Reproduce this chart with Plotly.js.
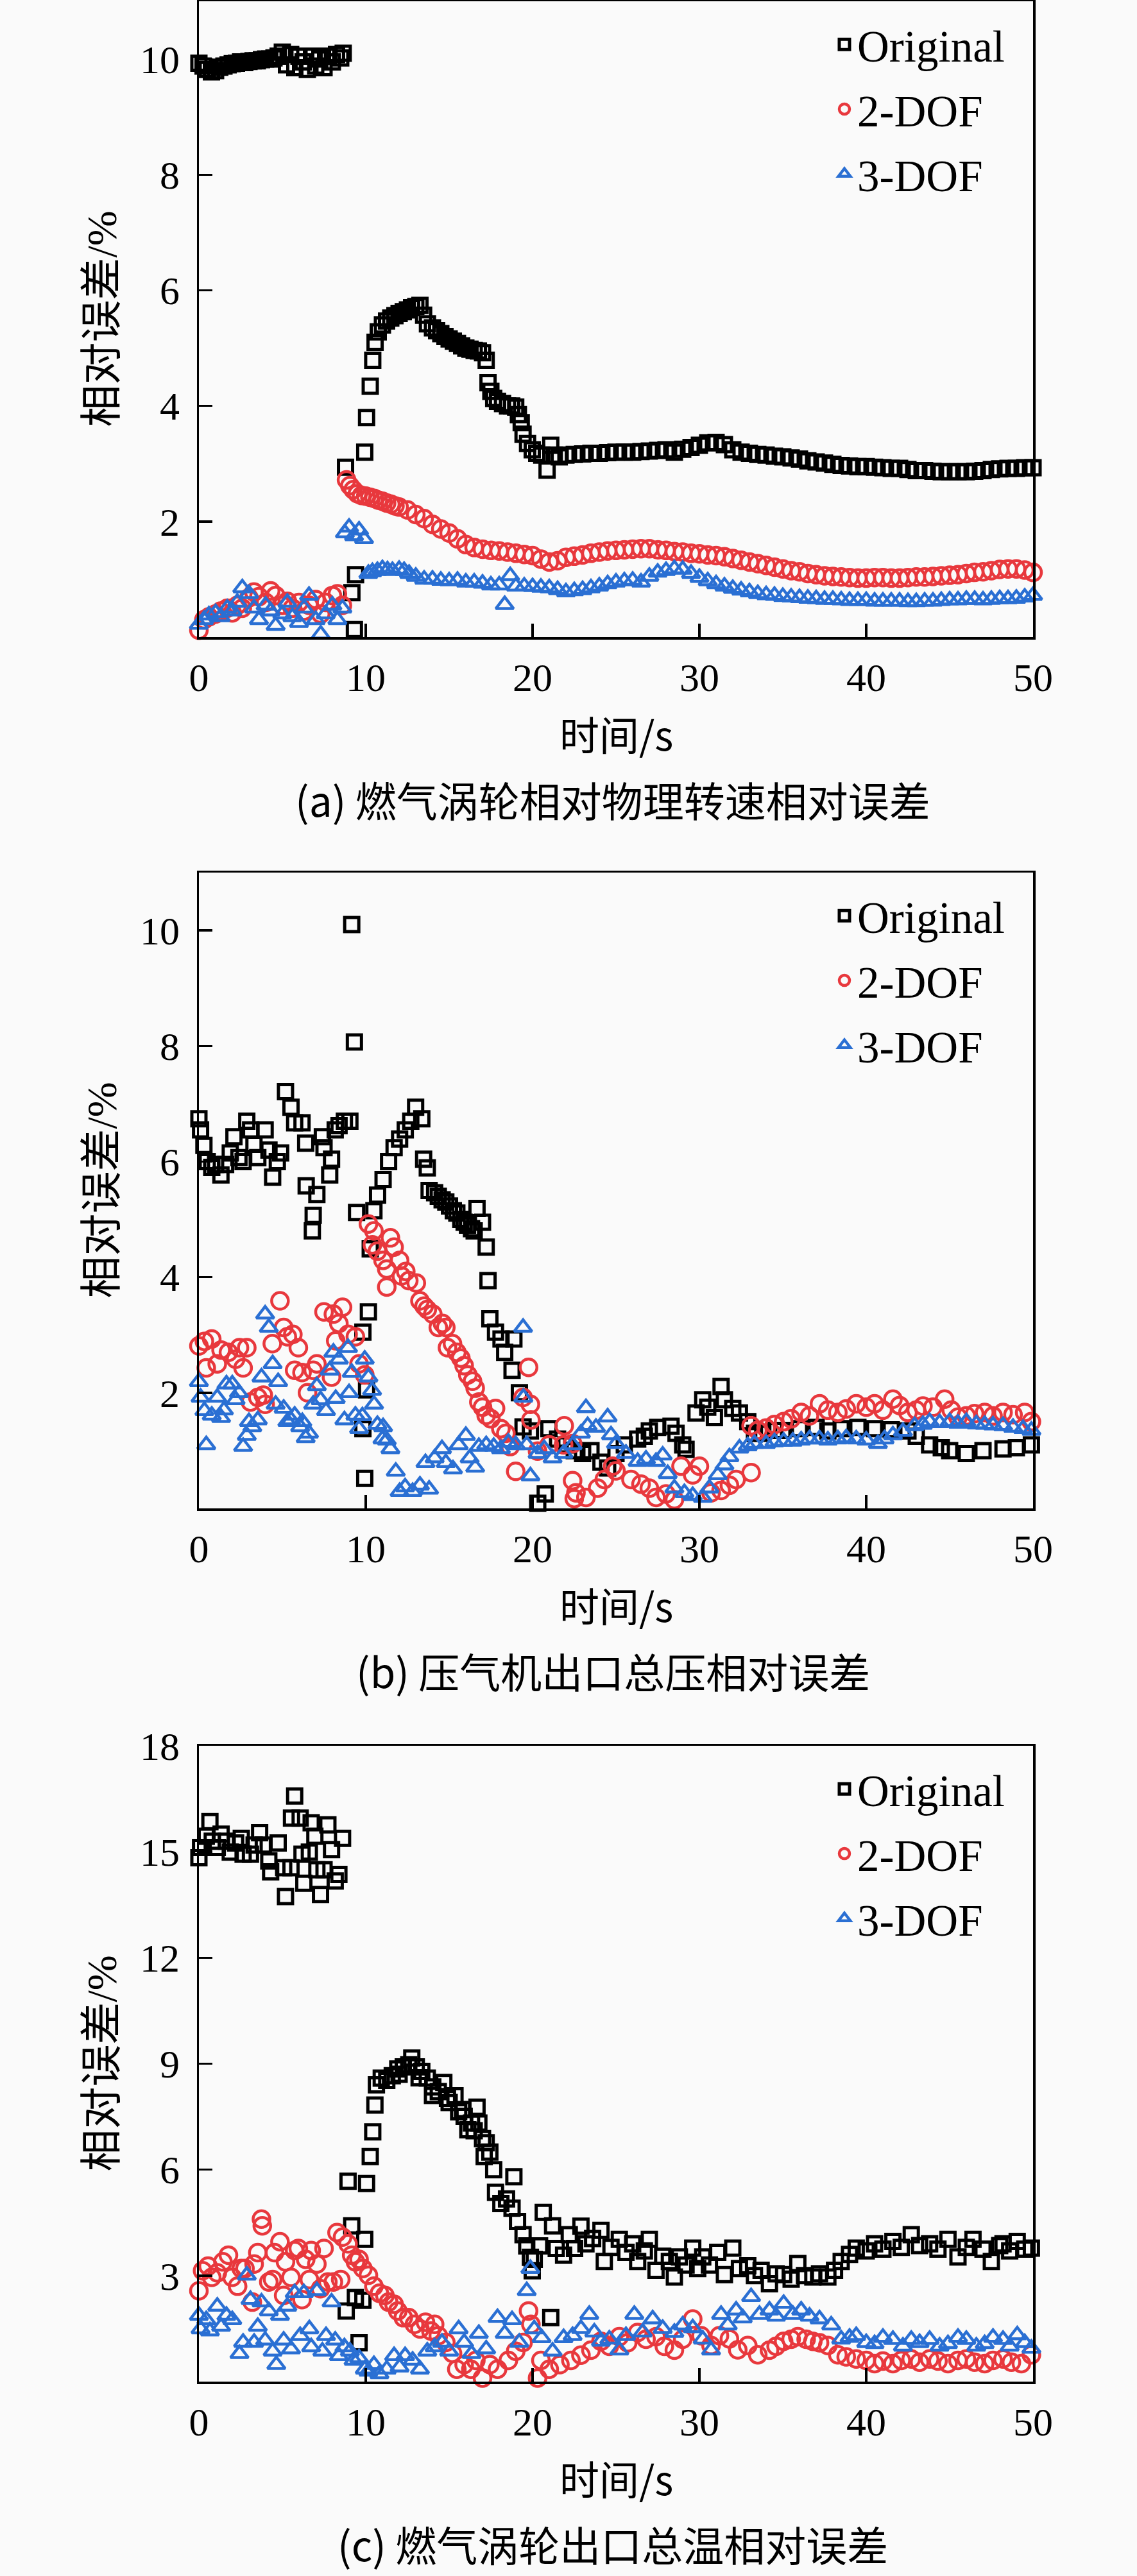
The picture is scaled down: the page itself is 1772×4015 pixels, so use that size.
<!DOCTYPE html>
<html>
<head>
<meta charset="utf-8">
<script src="https://cdn.plot.ly/plotly-3.0.1.min.js"></script>
<style>
html, body { margin: 0; padding: 0; background: #fafafa; }
#chart { width: 1772px; height: 4015px; }
</style>
</head>
<body>
<div id="chart"></div>
<script>
// series are [time s, relative error %] pairs

const series_names = ["Original", "2-DOF", "3-DOF"];
const x_ticks = [0, 10, 20, 30, 40, 50];
const y_ticks_ab = [2, 4, 6, 8, 10];
const y_ticks_c = [3, 6, 9, 12, 15, 18];
const captions = ["(a) 燃气涡轮相对物理转速相对误差", "(b) 压气机出口总压相对误差", "(c) 燃气涡轮出口总温相对误差"];

// (a) relative physical speed of gas turbine
const a_orig = [[0,9.93],[0.25,9.88],[0.5,9.82],[0.75,9.78],[1,9.8],[1.25,9.86],[1.5,9.88],[1.75,9.9],[2,9.92],[2.25,9.93],[2.5,9.95],[2.75,9.94],[3,9.96],[3.25,9.97],[3.5,9.97],[3.75,9.99],[4,10.0],[4.25,10.0],[4.5,10.02],[4.75,10.05],[5,10.12],[5.25,9.9],[5.5,10.08],[5.75,9.85],[6,10.05],[6.25,9.95],[6.5,9.82],[6.75,10.05],[7,9.88],[7.25,10.0],[7.5,9.85],[7.75,10.05],[8,9.95],[8.25,10.08],[8.5,10.02],[8.65,10.1],
  [8.79,2.94],[9.17,0.77],[9.32,0.13],[9.39,1.08],[9.94,3.2],[10.05,3.8],[10.27,4.34],[10.42,4.79],[10.56,5.1],[10.75,5.28],[11,5.4],[11.25,5.47],[11.5,5.52],[11.75,5.56],[12,5.6],[12.25,5.63],[12.5,5.66],[12.75,5.7],[13,5.72],[13.25,5.74],[13.47,5.57],[13.7,5.42],[14,5.35],[14.25,5.3],[14.5,5.25],[14.75,5.2],[15,5.16],[15.25,5.12],[15.5,5.08],[15.75,5.04],[16,5.0],[16.25,4.98],[16.5,4.96],[16.75,4.95],[17,4.92],[17.22,4.79],[17.33,4.4],[17.5,4.25],[17.67,4.13],[17.9,4.08],[18.2,4.04],[18.5,4.0],[18.75,4.0],[18.99,3.98],[19.15,3.85],[19.32,3.71],[19.43,3.51],[19.7,3.35],[19.98,3.24],[20.25,3.18],[20.55,3.15],[20.87,2.89],[21.09,3.32],[21.3,3.15],[21.6,3.12],
  [22,3.15],[22.5,3.16],[23,3.17],[23.5,3.18],[24,3.18],[24.5,3.19],[25,3.2],[25.5,3.2],[26,3.2],[26.5,3.21],[27,3.22],[27.5,3.23],[28,3.24],[28.5,3.2],[29,3.25],[29.5,3.28],[30,3.32],[30.5,3.36],[31,3.37],[31.5,3.33],[32,3.24],[32.5,3.2],[33,3.18],[33.5,3.16],[34,3.15],[34.5,3.13],[35,3.12],[35.5,3.1],[36,3.08],[36.5,3.05],[37,3.03],[37.5,3.01],[38,2.99],[38.5,2.97],[39,2.96],[39.5,2.95],[40,2.95],[40.5,2.94],[41,2.93],[41.5,2.92],[42,2.92],[42.5,2.9],[43,2.88],[43.5,2.88],[44,2.87],[44.5,2.86],[45,2.86],[45.5,2.86],[46,2.86],[46.5,2.87],[47,2.88],[47.5,2.9],[48,2.91],[48.5,2.92],[49,2.92],[49.5,2.93],[50,2.93]];
const a_dof2 = [[0,0.12],[0.3,0.3],[0.6,0.35],[1,0.4],[1.3,0.45],[1.7,0.5],[2,0.42],[2.3,0.55],[2.6,0.5],[3,0.68],[3.3,0.78],[3.6,0.7],[4,0.6],[4.3,0.8],[4.6,0.72],[5,0.55],[5.3,0.62],[5.6,0.5],[6,0.6],[6.3,0.45],[6.6,0.55],[7,0.65],[7.3,0.4],[7.6,0.6],[8,0.72],[8.3,0.75],[8.6,0.55],
  [8.85,2.72],[9.05,2.62],[9.25,2.55],[9.5,2.48],[9.75,2.45],[10,2.44],[10.25,2.42],[10.5,2.4],[10.75,2.37],[11,2.35],[11.25,2.32],[11.5,2.3],[11.75,2.27],[12,2.25],[12.5,2.2],[13,2.12],[13.5,2.05],[14,1.95],[14.5,1.87],[15,1.8],[15.5,1.7],[16,1.6],[16.5,1.55],[17,1.52],[17.5,1.5],[18,1.49],[18.5,1.47],[19,1.45],[19.5,1.43],[20,1.41],[20.5,1.35],[21,1.3],[21.5,1.32],[22,1.38],[22.5,1.4],[23,1.42],[23.5,1.45],[24,1.47],[24.5,1.49],[25,1.5],[25.5,1.51],[26,1.52],[26.5,1.53],[27,1.53],[27.5,1.51],[28,1.5],[28.5,1.48],[29,1.47],[29.5,1.45],[30,1.44],[30.5,1.42],[31,1.41],[31.5,1.39],[32,1.36],[32.5,1.33],[33,1.3],[33.5,1.27],[34,1.24],[34.5,1.21],[35,1.18],[35.5,1.15],[36,1.13],[36.5,1.1],[37,1.08],[37.5,1.06],[38,1.05],[38.5,1.04],[39,1.03],[39.5,1.02],[40,1.02],[40.5,1.03],[41,1.03],[41.5,1.02],[42,1.02],[42.5,1.03],[43,1.04],[43.5,1.04],[44,1.05],[44.5,1.06],[45,1.07],[45.5,1.08],[46,1.1],[46.5,1.12],[47,1.13],[47.5,1.15],[48,1.17],[48.5,1.18],[49,1.18],[49.5,1.16],[50,1.12]];
const a_dof3 = [[0,0.22],[0.3,0.3],[0.6,0.38],[1,0.42],[1.3,0.35],[1.7,0.5],[2,0.45],[2.3,0.6],[2.6,0.85],[3,0.75],[3.3,0.5],[3.6,0.3],[4,0.55],[4.3,0.45],[4.6,0.2],[5,0.4],[5.3,0.6],[5.6,0.35],[6,0.25],[6.3,0.5],[6.6,0.72],[7,0.3],[7.3,0.05],[7.6,0.4],[8,0.55],[8.3,0.3],[8.6,0.5],
  [8.75,1.8],[9,1.9],[9.3,1.75],[9.6,1.85],[9.9,1.7],[10.16,1.1],[10.4,1.13],[10.7,1.15],[11,1.18],[11.3,1.16],[11.6,1.15],[12,1.17],[12.3,1.15],[12.6,1.1],[13,1.05],[13.5,1.0],[14,1.0],[14.5,0.98],[15,0.97],[15.5,0.98],[16,0.95],[16.5,0.95],[17,0.93],[17.5,0.9],[18,0.9],[18.33,0.56],[18.66,1.06],[19,0.88],[19.5,0.88],[20,0.87],[20.5,0.86],[21,0.85],[21.5,0.82],[22,0.78],[22.5,0.8],[23,0.82],[23.5,0.85],[24,0.88],[24.5,0.92],[25,0.95],[25.5,0.97],[26,0.98],[26.5,0.95],[27,1.05],[27.5,1.12],[28,1.15],[28.5,1.18],[29,1.17],[29.5,1.1],[30,1.03],[30.5,0.97],[31,0.92],[31.5,0.88],[32,0.84],[32.5,0.81],[33,0.78],[33.5,0.75],[34,0.73],[34.5,0.72],[35,0.7],[35.5,0.69],[36,0.68],[36.5,0.67],[37,0.66],[37.5,0.65],[38,0.65],[38.5,0.64],[39,0.63],[39.5,0.63],[40,0.63],[40.5,0.62],[41,0.62],[41.5,0.62],[42,0.62],[42.5,0.61],[43,0.61],[43.5,0.62],[44,0.62],[44.5,0.63],[45,0.64],[45.5,0.64],[46,0.65],[46.5,0.65],[47,0.64],[47.5,0.65],[48,0.66],[48.5,0.66],[49,0.67],[49.5,0.69],[50,0.72]];

// (b) compressor outlet total pressure
const b_orig = [[0,6.74],[0.1,6.55],[0.3,6.28],[0.5,6.0],[0.77,5.9],[1.0,5.95],[1.32,5.77],[1.6,5.95],[1.88,6.15],[2.1,6.43],[2.4,6.07],[2.65,6.0],[2.87,6.7],[3.1,6.55],[3.3,6.3],[3.53,6.07],[3.97,6.55],[4.2,6.2],[4.42,5.73],[4.7,6.0],[4.9,6.15],[5.19,7.21],[5.52,6.94],[5.74,6.67],[6.18,6.67],[6.4,6.32],[6.43,5.58],[6.8,4.8],[6.85,5.07],[7.07,5.43],[7.4,6.43],[7.5,6.24],[7.84,5.77],[7.95,6.04],[8.17,6.55],[8.4,6.62],[8.72,6.7],[9.05,6.7],
  [9.16,10.1],[9.32,8.07],[9.45,5.12],[9.83,3.05],[9.83,1.38],[9.94,0.52],[10.05,2.05],[10.16,3.4],[10.27,4.49],[10.49,5.15],[10.71,5.42],[11.04,5.69],[11.37,6.0],[11.7,6.24],[12.03,6.39],[12.37,6.55],[12.7,6.7],[12.99,6.94],[13.36,6.74],[13.47,6.04],[13.69,5.89],[13.8,5.5],[14.13,5.46],[14.35,5.4],[14.58,5.34],[14.8,5.3],[15.02,5.23],[15.25,5.15],[15.46,5.11],[15.7,5.0],[15.9,4.95],[16.1,4.9],[16.34,4.84],[16.5,4.8],[16.67,5.19],[17.0,4.95],[17.22,4.52],[17.33,3.94],[17.44,3.28],[17.78,3.05],[18.11,2.93],[18.33,2.7],[18.77,2.39],[18.88,2.93],[19.21,2.0],[19.43,1.41],[19.87,1.34],[20.31,0.09],[20.76,0.25],[20.98,1.38],
  [21.5,1.2],[22,1.1],[22.5,1.0],[23,0.95],[23.5,1.0],[24.1,0.8],[24.5,0.7],[25,0.95],[25.5,1.1],[26.3,1.2],[26.7,1.25],[27,1.34],[27.5,1.4],[28.3,1.42],[28.6,1.3],[29,1.1],[29.2,1.02],[29.8,1.65],[30.2,1.88],[30.5,1.75],[30.9,1.57],[31.3,2.11],[31.5,1.88],[32,1.73],[32.4,1.65],[32.9,1.5],[33.3,1.3],[33.8,1.3],[34.5,1.35],[35,1.35],[36,1.38],[37,1.4],[37.7,1.34],[38.5,1.38],[39.5,1.4],[40.5,1.38],[41.5,1.36],[42.5,1.34],[43,1.25],[43.8,1.1],[44.5,1.05],[45,1.0],[46,0.95],[47,1.0],[48.2,1.03],[49,1.05],[49.9,1.1]];
const b_dof2 = [[0,2.81],[0.33,2.89],[0.44,2.43],[0.77,2.93],[1.1,2.5],[1.33,2.74],[1.77,2.7],[2.2,2.58],[2.43,2.78],[2.65,2.43],[2.87,2.78],[3.09,1.84],[3.53,1.92],[3.86,1.96],[3.97,1.8],[4.4,2.85],[4.86,3.59],[5.08,3.13],[5.3,2.97],[5.63,3.01],[5.74,2.39],[5.96,2.78],[6.18,2.35],[6.51,2.0],[6.85,2.39],[7.07,2.5],[7.5,3.4],[7.95,2.27],[8.06,3.36],[8.2,2.9],[8.39,3.2],[8.61,3.48],[8.94,3.01],[9.38,2.97],[9.6,2.5],[9.94,2.31],
  [10.16,4.92],[10.4,4.56],[10.49,4.8],[10.7,4.45],[11.04,4.29],[11.26,4.14],[11.26,3.83],[11.48,4.68],[11.7,4.52],[12.03,4.29],[12.14,4.02],[12.4,4.1],[12.58,3.94],[13.03,3.9],[13.25,3.59],[13.5,3.5],[13.69,3.44],[14.02,3.36],[14.35,3.13],[14.6,3.2],[14.8,3.13],[14.9,2.78],[15.2,2.85],[15.46,2.7],[15.7,2.6],[15.9,2.47],[16.12,2.31],[16.4,2.2],[16.56,2.08],[16.78,1.84],[17.0,1.75],[17.22,1.61],[17.5,1.55],[17.78,1.73],[18.1,1.38],[18.4,1.3],[18.66,1.07],[18.99,0.64],[19.43,1.92],[19.76,2.44],[19.87,1.8],[19.9,1.53],[20.3,0.99],[21.0,1.1],[21.86,1.1],[22.4,0.48],[22.5,0.17],
  [21.9,1.43],[22.4,1.12],[22.6,0.27],[23.2,0.19],[23.9,0.35],[24.3,0.5],[24.8,0.73],[25.0,0.65],[25.9,0.5],[26.5,0.42],[27.0,0.35],[27.4,0.19],[28.0,0.25],[28.5,0.15],[28.9,0.73],[29.6,0.58],[30.0,0.73],[30.7,0.27],[31.3,0.31],[31.8,0.4],[32.2,0.5],[33.1,0.62],[33.1,1.43],[33.5,1.35],[34.0,1.39],[34.5,1.45],[35.05,1.5],[35.5,1.55],[36.1,1.66],[36.6,1.6],[37.2,1.81],[37.7,1.7],[38.3,1.66],[38.8,1.72],[39.4,1.81],[40.0,1.75],[40.5,1.81],[41.0,1.7],[41.6,1.89],[42.0,1.78],[42.5,1.66],[43.0,1.7],[43.4,1.77],[44.0,1.75],[44.7,1.89],[45.1,1.7],[45.5,1.58],[46.0,1.6],[46.5,1.64],[47.1,1.66],[47.6,1.6],[48.2,1.66],[48.8,1.62],[49.5,1.66],[49.9,1.5]];
const b_dof3 = [[0,2.19],[0.1,1.92],[0.33,1.69],[0.44,1.1],[0.77,1.61],[1.1,1.92],[1.33,1.57],[1.5,1.7],[1.65,2.15],[2.0,2.15],[2.2,1.88],[2.4,2.0],[2.65,1.07],[2.87,1.26],[3.0,1.5],[3.2,1.41],[3.53,1.53],[3.75,2.27],[3.97,3.36],[4.19,3.13],[4.42,2.5],[4.6,1.8],[4.75,2.19],[5.08,1.73],[5.3,1.5],[5.52,1.53],[5.74,1.61],[6.07,1.41],[6.2,1.5],[6.4,1.22],[6.6,1.3],[6.85,1.8],[7.07,2.12],[7.29,1.88],[7.62,1.69],[7.84,2.39],[8.06,2.7],[8.2,1.9],[8.39,2.58],[8.72,1.53],[8.94,2.78],[9.0,2.0],[9.16,2.35],[9.38,1.61],[9.6,1.38],[9.8,1.6],[9.94,2.58],[10.16,2.27],[10.38,2.04],[10.5,1.8],[10.7,1.45],[11.0,1.2],[11.04,1.41],[11.26,1.18],[11.48,1.03],[11.8,0.64],[12.03,0.29],[12.36,0.37],[12.81,0.29],[13.25,0.4],[13.58,0.79],[13.8,0.33],[14.13,0.87],[14.57,1.03],[14.8,0.79],[15.23,0.68],[15.57,1.1],[16.0,1.26],[16.23,0.87],[16.56,0.71],[16.78,1.07],[17.22,1.1],[17.67,1.07],[18.1,1.03],[18.55,1.14],[18.99,1.1],[19.43,3.13],[19.45,1.92],[19.65,1.1],[19.87,0.56],[20.3,0.95],[20.7,1.03],[21.2,0.87],[21.86,0.95],
  [22.4,1.1],[22.9,1.3],[23.2,1.74],[23.3,1.43],[23.8,1.4],[24.5,1.58],[24.7,1.27],[25.0,1.12],[25.6,0.95],[26.3,0.81],[26.8,0.85],[27.4,0.81],[27.8,0.92],[28.1,0.6],[28.5,0.35],[29.1,0.27],[29.6,0.22],[30.2,0.19],[30.6,0.35],[31.1,0.58],[31.5,0.75],[31.8,0.89],[32.4,1.04],[32.9,1.08],[33.3,1.12],[34.0,1.12],[34.5,1.15],[35.05,1.16],[35.6,1.16],[36.1,1.18],[36.6,1.2],[37.2,1.2],[37.7,1.18],[38.3,1.2],[38.8,1.22],[39.4,1.2],[40.0,1.18],[40.7,1.12],[41.1,1.2],[41.6,1.27],[42.2,1.33],[42.9,1.43],[43.4,1.45],[43.8,1.5],[44.4,1.48],[45.0,1.5],[45.5,1.47],[46.0,1.5],[46.6,1.46],[47.1,1.45],[47.6,1.44],[48.2,1.43],[48.8,1.4],[49.4,1.38],[49.9,1.35]];

// (c) gas turbine outlet total temperature
const c_orig = [[0,14.83],[0.1,15.12],[0.44,15.44],[0.66,15.85],[0.8,15.3],[1.1,15.12],[1.33,15.5],[1.65,15.3],[1.88,14.99],[2.2,15.25],[2.54,15.38],[2.65,14.93],[3.09,14.93],[3.31,15.19],[3.64,15.54],[3.86,15.19],[4.19,14.74],[4.3,14.43],[4.75,15.25],[5.08,14.55],[5.19,13.73],[5.52,14.55],[5.55,15.95],[5.74,16.58],[6.07,15.95],[6.18,14.93],[6.29,14.11],[6.62,14.99],[6.73,15.82],[6.95,15.44],[7.07,14.49],[7.29,13.79],[7.5,14.49],[7.73,15.76],[7.95,15.06],[8.17,14.17],[8.39,14.36],[8.61,15.38],
  [8.83,2.0],[8.94,5.67],[9.16,4.41],[9.38,2.38],[9.6,1.1],[9.83,2.3],[9.94,4.03],[10.05,5.61],[10.27,6.37],[10.42,7.07],[10.55,7.83],[10.64,8.4],[10.93,8.59],[11.26,8.53],[11.59,8.66],[11.92,8.85],[12.0,8.7],[12.25,8.91],[12.58,8.97],[12.76,9.16],[13.03,8.91],[13.2,8.6],[13.36,8.78],[13.69,8.59],[14.0,8.1],[14.02,8.34],[14.35,8.21],[14.68,8.47],[14.9,8.02],[15.0,7.9],[15.35,8.09],[15.57,7.64],[15.8,7.7],[15.9,7.51],[16.12,7.13],[16.34,7.32],[16.5,7.1],[16.67,7.77],[16.78,7.32],[17.0,6.88],[17.1,6.37],[17.22,6.76],[17.44,6.5],[17.67,6.0],[17.78,5.36],[18.1,5.04],[18.44,5.17],[18.77,4.91],[18.88,5.8],[19.1,4.53],[19.43,4.16],[19.65,3.84],[19.87,3.52],[19.98,3.14],[20.1,3.46],[20.42,3.84],[20.64,4.79],[21.09,1.81],[21.2,4.41],[21.42,3.77],[21.86,3.58],[22.2,4.16],[22.52,3.77],
  [22.9,4.4],[23.2,3.9],[23.6,4.05],[24.1,4.28],[24.3,3.4],[24.7,3.8],[25.2,4.03],[25.6,3.66],[26.0,3.9],[26.3,3.4],[26.7,3.7],[27.0,4.03],[27.4,3.15],[27.8,3.55],[28.2,3.4],[28.5,2.96],[28.8,3.53],[29.2,3.3],[29.6,3.78],[29.9,3.2],[30.2,3.53],[30.6,3.3],[31.1,3.66],[31.5,3.03],[32.0,3.78],[32.4,3.2],[32.9,3.28],[33.3,3.0],[33.7,3.15],[34.2,2.77],[34.6,3.05],[35.05,3.03],[35.5,2.9],[35.9,3.34],[36.3,3.0],[36.8,2.96],[37.2,3.05],[37.7,2.96],[38.1,3.15],[38.5,3.4],[39.0,3.6],[39.4,3.78],[40.0,3.7],[40.5,3.9],[41.0,3.75],[41.6,3.97],[42.1,3.8],[42.7,4.16],[43.2,3.85],[43.8,3.9],[44.3,3.75],[44.9,4.03],[45.5,3.53],[46.0,3.8],[46.4,4.03],[47.0,3.75],[47.5,3.4],[48.0,3.85],[48.2,3.9],[48.6,3.7],[49.05,3.97],[49.5,3.75],[49.9,3.78]];
const c_dof2 = [[0,2.57],[0.22,3.14],[0.55,3.27],[0.77,2.95],[1.1,3.08],[1.44,3.39],[1.77,3.58],[1.99,2.95],[2.32,2.7],[2.54,3.2],[2.76,3.2],[3.2,2.25],[3.31,3.33],[3.53,3.65],[3.75,4.6],[3.8,4.41],[4.19,2.82],[4.42,2.89],[4.53,3.65],[4.86,3.96],[5.08,2.44],[5.19,3.39],[5.52,2.95],[5.74,3.71],[5.96,3.77],[6.18,2.32],[6.4,3.46],[6.62,2.89],[6.73,3.71],[7.07,3.33],[7.29,2.63],[7.5,3.77],[7.73,2.82],[8.06,2.82],[8.28,4.22],[8.5,2.89],[8.61,4.09],[8.94,3.9],[9.16,3.58],[9.38,3.39],[9.6,3.46],[9.83,3.2],[10.16,3.01],[10.49,2.7],[10.82,2.5],[11.15,2.44],[11.37,2.25],[11.7,2.19],[11.92,2.0],[12.25,1.81],[12.58,1.81],[12.92,1.62],[13.25,1.49],[13.58,1.68],[13.91,1.43],[14.13,1.62],[14.35,1.3],[14.8,1.11],[15.2,0.8],[15.46,0.35],[15.9,0.48],[16.3,0.35],[16.6,0.6],[17.0,0.1],[17.44,0.48],[17.9,0.35],[18.55,0.6],[18.99,0.86],[19.43,1.11],[19.76,2.0],[19.9,1.62],[20.3,0.1],[20.5,0.6],[21.0,0.35],[21.64,0.48],[22.3,0.6],
  [22.9,0.75],[23.5,0.89],[24.1,1.14],[24.6,1.0],[25.2,1.27],[25.7,1.1],[26.3,1.39],[26.8,1.2],[27.4,1.27],[27.9,1.0],[28.5,0.89],[29.0,1.2],[29.6,1.77],[30.1,1.3],[30.7,1.02],[31.2,1.3],[31.8,1.21],[32.3,0.9],[32.9,1.02],[33.5,0.76],[34.2,0.89],[34.6,1.0],[35.05,1.14],[35.5,1.2],[35.9,1.27],[36.4,1.2],[36.8,1.14],[37.2,1.1],[37.7,1.02],[38.3,0.76],[38.8,0.7],[39.4,0.64],[40.0,0.6],[40.5,0.51],[41.0,0.58],[41.6,0.51],[42.1,0.6],[42.7,0.64],[43.2,0.55],[43.8,0.64],[44.3,0.58],[44.9,0.51],[45.5,0.6],[46.0,0.64],[46.5,0.55],[47.1,0.51],[47.6,0.6],[48.2,0.64],[48.7,0.55],[49.3,0.51],[49.9,0.76]];
const c_dof3 = [[0,1.87],[0.1,1.49],[0.44,1.75],[0.66,1.43],[1.1,2.13],[1.33,1.56],[1.65,1.87],[2.0,1.75],[2.43,0.79],[2.65,1.11],[2.87,3.01],[3.09,2.32],[3.31,1.11],[3.53,1.56],[3.75,2.25],[3.97,1.17],[4.19,2.0],[4.42,0.86],[4.64,0.48],[4.86,1.87],[5.08,1.17],[5.3,2.13],[5.52,0.92],[5.74,2.51],[6.07,1.3],[6.29,2.51],[6.62,1.49],[6.73,0.98],[7.07,2.57],[7.4,0.86],[7.62,1.3],[7.95,2.25],[8.17,1.17],[8.39,0.73],[8.72,0.98],[9.05,0.86],[9.27,0.6],[9.6,0.67],[9.94,0.35],[10.16,0.29],[10.49,0.48],[10.82,0.22],[11.26,0.35],[11.7,0.73],[12.03,0.41],[12.36,0.73],[12.81,0.6],[13.25,0.35],[13.69,0.86],[14.13,0.98],[14.57,1.11],[15.0,0.86],[15.57,1.49],[15.9,1.11],[16.34,0.79],[16.78,1.36],[17.22,0.92],[17.9,1.81],[18.33,1.36],[18.77,1.75],[19.2,1.11],[19.65,2.57],[19.87,3.2],[20.1,1.49],[20.54,1.24],[21.2,0.86],[21.86,1.24],
  [22.4,1.3],[22.9,1.5],[23.4,1.9],[23.7,1.4],[24.1,1.14],[24.6,1.2],[25.2,0.89],[25.6,1.3],[26.1,1.9],[26.6,1.4],[27.2,1.77],[27.8,1.5],[28.5,1.39],[29.0,1.6],[29.6,1.52],[30.2,1.2],[30.7,0.89],[31.3,1.9],[31.7,1.6],[32.2,2.02],[32.6,1.8],[33.1,2.4],[33.6,1.9],[34.2,2.02],[34.6,1.85],[35.05,2.21],[35.6,1.9],[36.1,2.02],[36.6,1.85],[37.2,1.77],[37.9,1.6],[38.5,1.2],[39.0,1.25],[39.4,1.3],[40.0,1.1],[40.5,1.07],[41.0,1.25],[41.6,1.19],[42.2,1.0],[42.7,1.19],[43.2,1.1],[43.8,1.19],[44.4,1.0],[44.9,1.07],[45.5,1.25],[46.0,1.19],[46.6,1.0],[47.1,1.07],[47.6,1.25],[48.2,1.19],[48.6,1.0],[49.05,1.32],[49.5,1.1],[49.9,0.94]];

const panel_data = [[a_orig, a_dof2, a_dof3], [b_orig, b_dof2, b_dof3], [c_orig, c_dof2, c_dof3]];
const panel_yrange = [[0, 11], [0, 11], [0, 18]];
const panel_yticks = [y_ticks_ab, y_ticks_ab, y_ticks_c];

const W = 1772, H = 4015;
const plot_left = 310, plot_right = 1610;
const panel_top = [2, 1360, 2721];
const panel_h = 991;

const serif = "Liberation Serif";
const cjk = "Noto Sans CJK SC";
const mixed = "Liberation Serif, Noto Sans CJK SC";

const styles = [
    {symbol: "square-open", color: "#000000", size: 22, width: 5},
    {symbol: "circle-open", color: "#e8383d", size: 26, width: 4.5},
    {symbol: "triangle-up-open", color: "#2a6fd3", size: 24, width: 4.5}
];

function px_x(px) { return px / W; }
function px_y(px) { return 1 - px / H; }

function make_traces()
{
    const traces = [];
    panel_data.forEach((series, p) => {
        const suffix = p === 0 ? "" : String(p + 1);
        series.forEach((pts, s) => {
            const st = styles[s];
            traces.push({
                type: "scatter", mode: "markers",
                x: pts.map((d) => d[0]), y: pts.map((d) => d[1]),
                xaxis: "x" + suffix, yaxis: "y" + suffix,
                name: series_names[s], legend: "legend" + suffix,
                legendgroup: "g" + p + s,
                cliponaxis: false,
                marker: {symbol: st.symbol, size: st.size, color: st.color, line: {color: st.color, width: st.width}}
            });
        });
    });
    return traces;
}

function make_layout()
{
    const layout = {
        width: W, height: H,
        margin: {l: 0, r: 0, t: 0, b: 0},
        paper_bgcolor: "#fafafa", plot_bgcolor: "#fafafa",
        font: {family: serif, size: 62, color: "#000"},
        showlegend: true,
        annotations: []
    };
    for (let p = 0; p < 3; p++) {
        const suffix = p === 0 ? "" : String(p + 1);
        const top = panel_top[p], bottom = top + panel_h;
        const axis_common = {
            ticks: "inside", ticklen: 21, tickwidth: 3.5, tickcolor: "#000",
            showline: true, linewidth: 3.5, linecolor: "#000", mirror: true,
            showgrid: false, zeroline: false,
            tickfont: {family: serif, size: 62, color: "#000"}
        };
        layout["xaxis" + suffix] = Object.assign({}, axis_common, {
            domain: [px_x(plot_left), px_x(plot_right)],
            range: [0, 50], tickvals: x_ticks, anchor: "y" + suffix,
            ticklabelstandoff: 6
        });
        layout["yaxis" + suffix] = Object.assign({}, axis_common, {
            domain: [px_y(bottom), px_y(top)],
            range: panel_yrange[p], tickvals: panel_yticks[p], anchor: "x" + suffix,
            ticklabelstandoff: 14
        });
        layout["legend" + suffix] = {
            x: px_x(1296), y: px_y(top + 16), xanchor: "left", yanchor: "top",
            bgcolor: "rgba(0,0,0,0)", borderwidth: 0,
            font: {family: serif, size: 69, color: "#000"},
            traceorder: "grouped", tracegroupgap: 8, itemsizing: "trace"
        };
        layout.annotations.push(
            {xref: "paper", yref: "paper", x: px_x(158), y: px_y(top + panel_h / 2), text: "相对误差/%",
             textangle: -90, showarrow: false, xanchor: "center", yanchor: "middle",
             font: {family: mixed, size: 66, color: "#000"}},
            {xref: "paper", yref: "paper", x: px_x(960), y: px_y(bottom + 150), text: "时间/s",
             showarrow: false, xanchor: "center", yanchor: "middle",
             font: {family: cjk, size: 62, color: "#000"}},
            {xref: "paper", yref: "paper", x: px_x(955), y: px_y(bottom + 252), text: captions[p],
             showarrow: false, xanchor: "center", yanchor: "middle",
             font: {family: cjk, size: 64, color: "#000"}}
        );
    }
    return layout;
}

Plotly.newPlot("chart", make_traces(), make_layout(), {staticPlot: true, displayModeBar: false});
</script>
</body>
</html>
